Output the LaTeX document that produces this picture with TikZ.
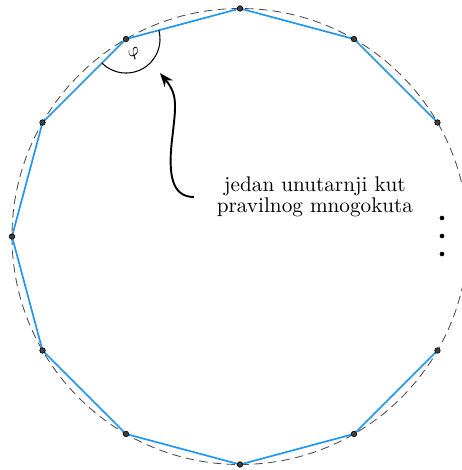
\documentclass[tikz,border=0pt]{standalone}
\usetikzlibrary{arrows.meta}
\definecolor{polyblue}{RGB}{33,150,243}
\begin{document}
\begin{tikzpicture}[x=0.4717pt,y=0.4717pt,
  edge/.style={polyblue, line width=0.8pt, line join=round},
  vdot/.style={circle, fill=black!75, draw=black, line width=0.3pt, inner sep=0pt, minimum size=2.6pt},
  sdot/.style={circle, fill=black, inner sep=0pt, minimum size=2.2pt},
  guide/.style={black!70, line width=0.4pt, dash pattern=on 4pt off 2.5pt},
  anglearc/.style={black, line width=0.5pt},
  pointer/.style={black, line width=0.9pt, -{Stealth[length=6.5pt, width=5pt]}},
  caption/.style={align=center, font=\fontsize{10}{9.6}\selectfont}]
\clip (-240,-233.5) rectangle (222,236.5);
\draw[guide] (0,0) circle (228);
\foreach \k in {1,...,11} \coordinate (c\k) at ({30*\k}:228);
\draw[edge] (c1) \foreach \k in {2,...,11} { -- (c\k) };
\foreach \k in {1,...,11} \node[vdot] (v\k) at (c\k) {};
\draw[anglearc] ([shift={(15:34)}]c4) arc[start angle=15, end angle=-135, radius=34];
\node[rotate=30, font=\footnotesize, inner sep=0pt] (phi) at ([shift={(300:17)}]c4) {$\varphi$};
\node[caption] (txt) at (75,39.5) {jedan unutarnji kut\\pravilnog mnogokuta};
\coordinate (astart) at (-46,39.5);
\coordinate (amid) at (-68,96.5);
\coordinate (atip) at (-80,163.5);
\draw[pointer] (astart) .. controls (-68,39.5) and (-72,61.5) .. (amid)
  .. controls (-64,131.5) and (-62,141.5) .. (atip);
\node[sdot] (d1) at (202,18.5) {};
\node[sdot] (d2) at (202,0.5) {};
\node[sdot] (d3) at (202,-17.5) {};
\end{tikzpicture}
\end{document}
